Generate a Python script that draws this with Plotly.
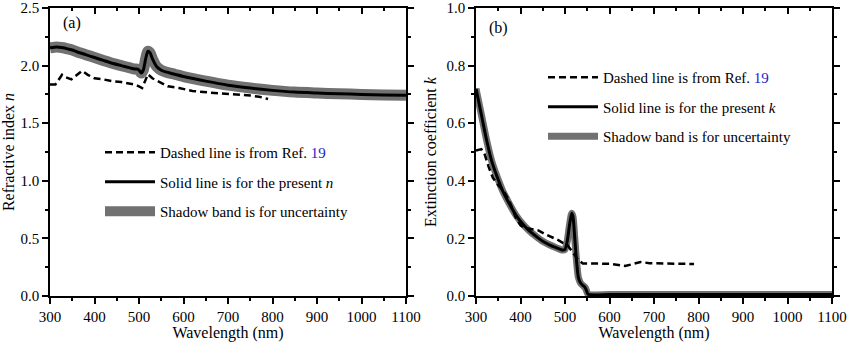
import plotly.graph_objects as go

# ---------------- data ----------------
# (a) refractive index n
wl_n = [300, 310, 320, 330, 340, 350, 360, 380, 400, 420, 440, 460, 480, 490, 495, 500,
        505, 510, 515, 520, 525, 530, 540, 550, 560, 580, 600, 650, 700, 750, 800, 850,
        900, 950, 1000, 1050, 1100]
n_present = [2.155, 2.16, 2.16, 2.155, 2.145, 2.135, 2.12, 2.095, 2.07, 2.045, 2.02, 2.0,
             1.98, 1.97, 1.97, 1.96, 1.935, 1.965, 2.06, 2.125, 2.11, 2.06, 1.99, 1.96, 1.945,
             1.925, 1.905, 1.865, 1.83, 1.805, 1.785, 1.77, 1.762, 1.755, 1.75, 1.745, 1.742]

wl_n_ref = [300, 312, 327, 335, 348, 360, 372, 385, 400, 420, 440, 460, 480, 490, 500, 507,
            513, 520, 530, 545, 565, 590, 620, 660, 705, 750, 770, 790]
n_ref = [1.835, 1.835, 1.92, 1.90, 1.88, 1.92, 1.955, 1.92, 1.89, 1.88, 1.865, 1.857, 1.845,
         1.835, 1.82, 1.805, 1.86, 1.925, 1.89, 1.86, 1.82, 1.805, 1.78, 1.765, 1.755, 1.74,
         1.73, 1.71]

# (b) extinction coefficient k
wl_k = [300, 312, 324, 335, 346, 360, 375, 390, 405, 420, 436, 450, 466, 480, 493, 500, 505,
        510, 515, 518, 522, 526, 530, 535, 540, 545, 548, 552, 600, 700, 800, 900, 1000, 1100]
k_present = [0.72, 0.63, 0.54, 0.47, 0.42, 0.365, 0.32, 0.28, 0.25, 0.226, 0.206, 0.19, 0.177,
             0.168, 0.16, 0.162, 0.19, 0.245, 0.287, 0.275, 0.2, 0.12, 0.065, 0.045, 0.037,
             0.03, 0.02, 0.006, 0.005, 0.005, 0.005, 0.005, 0.005, 0.005]

wl_k_ref = [300, 312, 320, 328, 338, 350, 362, 375, 390, 400, 410, 425, 440, 455, 470, 485, 496,
            505, 525, 530, 540, 560, 600, 620, 635, 650, 670, 690, 720, 750, 770, 790]
k_ref = [0.505, 0.51, 0.49, 0.45, 0.41, 0.385, 0.365, 0.33, 0.27, 0.245, 0.236, 0.232, 0.228,
         0.215, 0.205, 0.194, 0.184, 0.178, 0.135, 0.125, 0.113, 0.112, 0.112, 0.108, 0.104,
         0.11, 0.118, 0.114, 0.113, 0.112, 0.11, 0.111]

x_ticks = [300, 400, 500, 600, 700, 800, 900, 1000, 1100]
n_ticks = [0.0, 0.5, 1.0, 1.5, 2.0, 2.5]
k_ticks = [0.0, 0.2, 0.4, 0.6, 0.8, 1.0]

# ---------------- style ----------------
FONT = "Times New Roman, Liberation Serif, DejaVu Serif, serif"
BAND = "#717171"
BLUE = "#2222cc"
DASH = "7px,4px"

fig = go.Figure()

def add_panel(xa, ya, wl, val, wl_ref, val_ref, sym, legend, band_w):
    fig.add_trace(go.Scatter(x=wl, y=val, xaxis=xa, yaxis=ya, mode="lines",
                             line=dict(color=BAND, width=band_w, shape="spline", smoothing=0.6),
                             name="Shadow band is for uncertainty",
                             legend=legend, legendgroup=legend + "c", legendrank=3))
    fig.add_trace(go.Scatter(x=wl, y=val, xaxis=xa, yaxis=ya, mode="lines",
                             line=dict(color="black", width=3, shape="spline", smoothing=0.6),
                             name=f"Solid line is for the present <i>{sym}</i>",
                             legend=legend, legendgroup=legend + "b", legendrank=2))
    fig.add_trace(go.Scatter(x=wl_ref, y=val_ref, xaxis=xa, yaxis=ya, mode="lines",
                             line=dict(color="black", width=2.5, dash=DASH),
                             name=f"Dashed line is from Ref. <span style='color:{BLUE}'>19</span>",
                             legend=legend, legendgroup=legend + "a", legendrank=1))

add_panel("x", "y", wl_n, n_present, wl_n_ref, n_ref, "n", "legend", 11)
add_panel("x2", "y2", wl_k, k_present, wl_k_ref, k_ref, "k", "legend2", 7)

# dummy traces so the top overlay axes are drawn
fig.add_trace(go.Scatter(x=[None], y=[None], xaxis="x3", yaxis="y", showlegend=False))
fig.add_trace(go.Scatter(x=[None], y=[None], xaxis="x4", yaxis="y2", showlegend=False))

W = 850
ML, MR = 50, 18
pw = W - ML - MR
d1 = [0, 356 / pw]
d2 = [426 / pw, 1]

tickfont = dict(family=FONT, size=15, color="black")
titlefont = dict(family=FONT, size=16, color="black")

def xax(domain, anchor):
    return dict(domain=domain, anchor=anchor, range=[300, 1100], tickvals=x_ticks,
                ticks="outside", ticklen=6, tickwidth=1.5, tickcolor="black",
                showline=True, linewidth=1.5, linecolor="black", mirror=True,
                showgrid=False, zeroline=False, tickfont=tickfont, automargin=False,
                minor=dict(ticks="outside", dtick=50, tick0=300, ticklen=3,
                           tickwidth=1.5, tickcolor="black", showgrid=False),
                title=dict(text="Wavelength (nm)", font=titlefont, standoff=4))

def xtop(over, anchor):
    return dict(overlaying=over, matches=over, anchor=anchor, side="top",
                range=[300, 1100], tickvals=x_ticks, ticks="inside", ticklen=6,
                tickwidth=1.5, tickcolor="black", showticklabels=False, automargin=False,
                showline=False, showgrid=False, zeroline=False,
                minor=dict(ticks="inside", dtick=50, tick0=300, ticklen=3,
                           tickwidth=1.5, tickcolor="black", showgrid=False))

def yax(domain, anchor, rng, vals, minor_dt, title):
    return dict(domain=domain, anchor=anchor, range=rng, tickvals=vals,
                tickformat=".1f", ticks="outside", ticklen=6, tickwidth=1.5,
                tickcolor="black", showline=True, linewidth=1.5, linecolor="black",
                mirror="ticks", showgrid=False, zeroline=False, tickfont=tickfont,
                automargin=False,
                minor=dict(ticks="outside", dtick=minor_dt, tick0=0, ticklen=3,
                           tickwidth=1.5, tickcolor="black", showgrid=False),
                title=dict(text=title, font=titlefont, standoff=6))

legend_common = dict(font=dict(family=FONT, size=15, color="black"),
                     bgcolor="rgba(0,0,0,0)", borderwidth=0,
                     traceorder="grouped", tracegroupgap=7, itemwidth=50,
                     xanchor="left", yanchor="top", xref="paper", yref="paper")

fig.update_layout(
    width=W, height=342,
    margin=dict(l=ML, r=MR, t=8, b=46),
    paper_bgcolor="white", plot_bgcolor="white",
    showlegend=True,
    font=dict(family=FONT),
    xaxis=xax(d1, "y"),
    yaxis=yax([0, 1], "x", [0, 2.5], n_ticks, 0.25, "Refractive index <i>n</i>"),
    xaxis2=xax(d2, "y2"),
    yaxis2=yax([0, 1], "x2", [0, 1.0], k_ticks, 0.1, "Extinction coefficient <i>k</i>"),
    xaxis3=xtop("x", "y"),
    xaxis4=xtop("x2", "y2"),
    legend=dict(x=(100 - ML) / pw, y=(295 - 135) / 288, **legend_common),
    legend2=dict(x=(543 - ML) / pw, y=(296 - 61) / 288, **legend_common),
    annotations=[
        dict(text="(a)", x=0.03, y=0.985, xref="x domain", yref="y domain",
             xanchor="left", yanchor="top", showarrow=False,
             font=dict(family=FONT, size=16, color="black")),
        dict(text="(b)", x=0.03, y=0.97, xref="x2 domain", yref="y2 domain",
             xanchor="left", yanchor="top", showarrow=False,
             font=dict(family=FONT, size=16, color="black")),
    ],
)

fig.write_html("out.html")
